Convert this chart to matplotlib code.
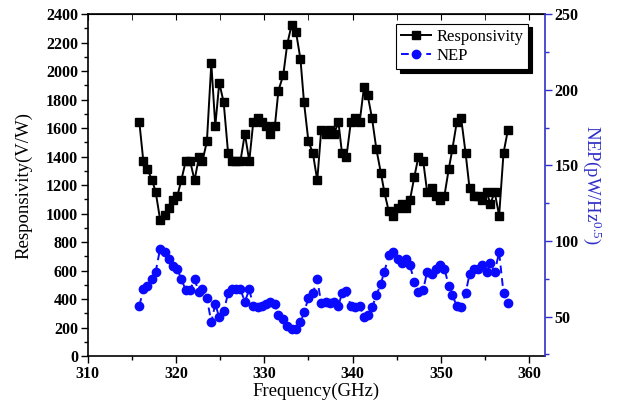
import matplotlib
matplotlib.use("Agg")
import matplotlib.pyplot as plt
from matplotlib.ticker import MultipleLocator

plt.rcParams['font.family'] = ['Liberation Serif', 'DejaVu Serif']
plt.rcParams['mathtext.fontset'] = 'custom'
plt.rcParams['mathtext.rm'] = 'Liberation Serif'
plt.rcParams['mathtext.it'] = 'Liberation Serif:italic'

freq = [315.85, 316.3, 316.75, 317.3, 317.7, 318.2, 318.7, 319.2, 319.7, 320.15,
        320.6, 321.1, 321.6, 322.1, 322.6, 323.0, 323.5, 324.0, 324.45, 324.9,
        325.4, 325.9, 326.3, 326.8, 327.3, 327.8, 328.3, 328.75, 329.25, 329.7,
        330.2, 330.7, 331.2, 331.6, 332.15, 332.6, 333.1, 333.6, 334.1, 334.5,
        335.0, 335.5, 336.0, 336.45, 336.95, 337.4, 337.9, 338.4, 338.8, 339.3,
        339.8, 340.3, 340.8, 341.3, 341.7, 342.2, 342.7, 343.2, 343.6, 344.1,
        344.6, 345.1, 345.6, 346.05, 346.5, 347.0, 347.45, 348.0, 348.45, 348.95,
        349.4, 349.9, 350.4, 350.9, 351.3, 351.8, 352.3, 352.8, 353.25, 353.7,
        354.2, 354.7, 355.2, 355.6, 356.1, 356.6, 357.1, 357.6]

responsivity = [1640, 1368, 1312, 1233, 1151, 957, 987, 1041, 1095, 1123,
                1233, 1368, 1368, 1233, 1396, 1368, 1506, 2054, 1614, 1918,
                1780, 1425, 1368, 1368, 1368, 1560, 1368, 1640, 1670, 1640,
                1614, 1560, 1614, 1862, 1972, 2189, 2325, 2271, 2082, 1780,
                1506, 1425, 1233, 1588, 1560, 1588, 1560, 1640, 1425, 1396,
                1640, 1670, 1640, 1890, 1834, 1670, 1450, 1287, 1151, 1015,
                985, 1041, 1069, 1041, 1095, 1258, 1396, 1368, 1151, 1177,
                1123, 1095, 1123, 1314, 1450, 1640, 1668, 1425, 1177, 1123,
                1123, 1095, 1149, 1069, 1149, 985, 1425, 1588]

nep = [57.2, 68.0, 70.0, 74.6, 79.7, 94.9, 92.5, 87.9, 83.4, 81.7,
       74.6, 67.8, 67.8, 74.6, 66.3, 68.0, 62.1, 46.4, 58.3, 49.5,
       53.5, 65.4, 68.0, 68.0, 68.0, 59.9, 68.0, 57.2, 56.1, 57.2,
       58.3, 59.9, 58.3, 51.1, 48.4, 43.8, 41.6, 42.0, 46.2, 53.0,
       62.1, 65.6, 74.6, 58.8, 59.9, 58.8, 59.9, 57.2, 65.4, 66.7,
       57.2, 56.1, 57.2, 50.0, 51.1, 56.1, 64.1, 71.8, 79.7, 90.5,
       92.5, 87.9, 85.5, 87.9, 83.9, 73.1, 66.4, 67.8, 79.7, 78.2,
       81.7, 83.9, 81.7, 70.4, 64.1, 57.2, 56.1, 65.4, 78.2, 81.7,
       81.7, 83.9, 79.7, 85.2, 79.7, 92.5, 65.4, 59.0]

BLUE = '#0a0aff'
AXBLUE = '#3030c8'

fig = plt.figure(figsize=(6.19, 4.16), dpi=100)
ax = fig.add_axes([0.1417, 0.1442, 0.7388, 0.8221])
ax2 = ax.twinx()

l1, = ax.plot(freq, responsivity, '-s', color='black', lw=1.4, ms=5.2,
              label='Responsivity')
l2, = ax2.plot(freq, nep, '--o', color=BLUE, lw=1.4, ms=6, dashes=(4, 2.5),
               label='NEP')

ax.set_xlim(310, 361.8)
ax.set_ylim(0, 2400)
ax2.set_ylim(24, 250)

ax.xaxis.set_major_locator(MultipleLocator(10))
ax.xaxis.set_minor_locator(MultipleLocator(5))
ax.yaxis.set_major_locator(MultipleLocator(200))
ax.yaxis.set_minor_locator(MultipleLocator(100))
ax2.yaxis.set_major_locator(MultipleLocator(50))
ax2.yaxis.set_minor_locator(MultipleLocator(25))

ax.tick_params(axis='x', which='both', direction='out', top=False, labeltop=False)
ax.tick_params(axis='x', which='major', length=5, width=1)
ax.tick_params(axis='x', which='minor', length=3, width=1)
ax.tick_params(axis='y', which='major', direction='out', length=5, width=1)
ax.tick_params(axis='y', which='minor', direction='out', length=3, width=1)
ax.tick_params(labelsize=11.5, pad=2)
ax2.tick_params(axis='y', which='major', direction='out', length=5, width=1,
                color=AXBLUE, labelsize=11.5, pad=2)
ax2.tick_params(axis='y', which='minor', direction='out', length=3, width=1,
                color=AXBLUE)

for lab in ax.get_xticklabels() + ax.get_yticklabels() + ax2.get_yticklabels():
    lab.set_fontweight('bold')

# top ticks inward
sec = ax.secondary_xaxis('top')
sec.xaxis.set_major_locator(MultipleLocator(10))
sec.xaxis.set_minor_locator(MultipleLocator(5))
sec.tick_params(axis='x', which='both', direction='in', labeltop=False, length=4)

for s in ['left', 'bottom', 'top']:
    ax.spines[s].set_linewidth(1.2)
ax2.spines['right'].set_color(AXBLUE)
ax2.spines['right'].set_linewidth(1.2)
ax2.spines['left'].set_visible(False)
ax2.spines['top'].set_visible(False)
ax2.spines['bottom'].set_visible(False)
ax.spines['right'].set_visible(False)

ax.set_xlabel('Frequency(GHz)', fontsize=13.5, labelpad=1)
ax.set_ylabel('Responsivity(V/W)', fontsize=13.5, labelpad=10)
ax2.set_ylabel(r'NEP(pW/Hz$^{\mathrm{0.5}}$)', fontsize=13.5, color=AXBLUE,
               rotation=270, labelpad=18)

leg = ax2.legend([l1, l2], ['Responsivity', 'NEP'], loc='upper right',
                 bbox_to_anchor=(0.963, 0.971), borderaxespad=0, fontsize=12,
                 fancybox=False, edgecolor='black', framealpha=1,
                 shadow={'color': 'black', 'alpha': 1, 'ox': 2.5, 'oy': -2.5},
                 handlelength=1.8, handletextpad=0.3, labelspacing=0.2,
                 borderpad=0.3)
leg.get_frame().set_linewidth(0.8)

fig.savefig('out.png', dpi=100)
